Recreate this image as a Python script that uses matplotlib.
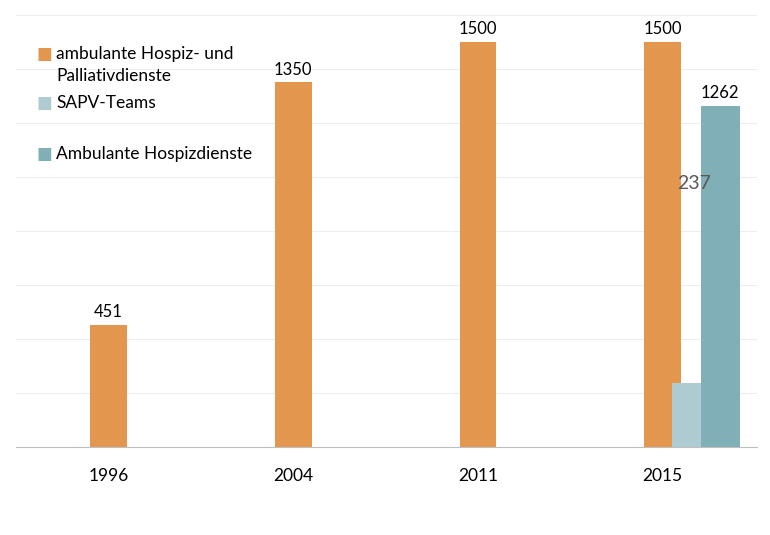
import numpy as np
import matplotlib
matplotlib.use("Agg")
import matplotlib.pyplot as plt

plt.rcParams['font.family'] = ['Lato', 'DejaVu Sans']

years = ['1996', '2004', '2011', '2015']
ambulant = [451, 1350, 1500, 1500]
sapv_year = 3
sapv = 237
hospiz_year = 3
hospiz = 1262

c_orange = '#E3974E'
c_light = '#AECBD2'
c_teal = '#80AFB7'

fig = plt.figure(figsize=(7.7, 5.35), dpi=100)
ax = fig.add_axes([0.021, 0.1645, 0.962, 0.8075])

x = np.arange(len(years))
ax.bar(x, ambulant, width=0.2, color=c_orange, zorder=2)
ax.bar(sapv_year + 0.127, sapv, width=0.157, color=c_light, zorder=3)
ax.bar(hospiz_year + 0.311, hospiz, width=0.21, color=c_teal, zorder=3)

# value labels
for xi, v in zip(x, ambulant):
    ax.text(xi, v + 18, str(v), ha='center', va='bottom', fontsize=12, color='black')
ax.text(hospiz_year + 0.311, hospiz + 18, str(hospiz), ha='center', va='bottom',
        fontsize=12, color='black')
ax.text(sapv_year + 0.17, 975, str(sapv), ha='center', va='center',
        fontsize=14, color='#595959')

ax.set_xlim(-0.5, 3.51)
ax.set_ylim(0, 1600)
ax.set_yticks(np.arange(0, 1601, 200))
ax.yaxis.grid(True, color='#ededed', linewidth=0.8, zorder=0)
ax.set_axisbelow(True)
ax.tick_params(axis='y', left=False, labelleft=False)
ax.set_xticks(x)
ax.set_xticklabels(years, fontsize=12.5)
ax.tick_params(axis='x', length=0, pad=15)
for s in ['top', 'right', 'left']:
    ax.spines[s].set_visible(False)
ax.spines['bottom'].set_color('#bfbfbf')

# legend (marker y, text y)
legend_items = [
    (c_orange, 'ambulante Hospiz- und\nPalliativdienste', 0.9097, 0.884),
    (c_light, 'SAPV-Teams', 0.796, 0.796),
    (c_teal, 'Ambulante Hospizdienste', 0.678, 0.678),
]
for col, lab, ym, yt in legend_items:
    ax.text(0.028, ym, '\u25A0', transform=ax.transAxes, color=col, fontsize=12,
            va='center', ha='left', family='DejaVu Sans')
    ax.text(0.054, yt, lab, transform=ax.transAxes, color='black', fontsize=12.5,
            va='center', ha='left', linespacing=1.45)

fig.savefig('out.png', dpi=100)
